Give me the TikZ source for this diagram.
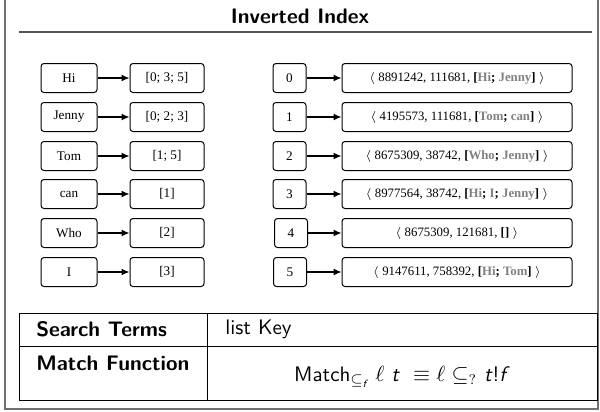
\documentclass[tikz,border=0pt]{standalone}
\usepackage{amsmath}
\usepackage{fontspec}
\newfontfamily\docfont{Liberation Serif}
\usetikzlibrary{arrows.meta}

\definecolor{framegray}{RGB}{112,112,112}
\definecolor{rulegray}{RGB}{85,85,85}
\definecolor{termgray}{RGB}{128,128,128}
\newcommand{\term}[1]{\textcolor{termgray}{#1}}
\newcommand{\sfvar}[1]{\text{\sffamily\itshape #1}}

\begin{document}
\begin{tikzpicture}[
  x=0.5pt, y=-0.5pt,
  entry/.style={rectangle, rounded corners=1.5pt, draw, line width=0.5pt, minimum height=14.5pt, inner sep=0pt, font=\docfont\fontsize{6.6}{8}\selectfont},
  key/.style={entry, minimum width=28pt},
  postings/.style={entry, minimum width=37pt},
  docid/.style={entry, minimum width=16.5pt},
  doc/.style={entry, minimum width=115pt, font=\docfont\fontsize{6.4}{7.5}\selectfont},
  link/.style={-{Latex[length=4pt,width=3.4pt]}, line width=0.55pt},
  heading/.style={font=\sffamily\bfseries\fontsize{10.5}{12}\selectfont},
  cell/.style={font=\sffamily\fontsize{10.5}{12}\selectfont}
]
\useasboundingbox (0,0) rectangle (600,412);

% Frame and title
\draw[framegray, line width=0.8pt] (5,-10) rectangle (598,409);
\node[heading] (Title) at (300,16) {Inverted Index};
\draw[rulegray, line width=0.55pt] (19,32) -- (592,32);

% Keys -> posting lists
\node[key] (Hi) at (69,78) {Hi};
\node[key] (Jenny) at (69,117) {Jenny};
\node[key] (Tom) at (69,156) {Tom};
\node[key] (Can) at (69,194) {can};
\node[key] (Who) at (69,233) {Who};
\node[key] (I) at (69,272) {I};

\node[postings] (HiList) at (167,78) {[0; 3; 5]};
\node[postings] (JennyList) at (167,117) {[0; 2; 3]};
\node[postings] (TomList) at (167,156) {[1; 5]};
\node[postings] (CanList) at (167,194) {[1]};
\node[postings] (WhoList) at (167,233) {[2]};
\node[postings] (IList) at (167,272) {[3]};

% Document ids -> documents
\node[docid] (D0) at (289.5,78) {0};
\node[docid] (D1) at (289.5,117) {1};
\node[docid] (D2) at (289.5,156) {2};
\node[docid] (D3) at (289.5,194) {3};
\node[docid] (D4) at (291,233) {4};
\node[docid] (D5) at (290,272) {5};

\node[doc] (Doc0) at (457,78) {$\langle$ 8891242, 111681, \textbf{[\term{Hi}; \term{Jenny}]} $\rangle$};
\node[doc] (Doc1) at (457,117) {$\langle$ 4195573, 111681, \textbf{[\term{Tom}; \term{can}]} $\rangle$};
\node[doc] (Doc2) at (457,156) {$\langle$ 8675309, 38742, \textbf{[\term{Who}; \term{Jenny}]} $\rangle$};
\node[doc] (Doc3) at (457,194) {$\langle$ 8977564, 38742, \textbf{[\term{Hi}; \term{I}; \term{Jenny}]} $\rangle$};
\node[doc] (Doc4) at (457,233) {$\langle$ 8675309, 121681, \textbf{[]} $\rangle$};
\node[doc] (Doc5) at (457,272) {$\langle$ 9147611, 758392, \textbf{[\term{Hi}; \term{Tom}]} $\rangle$};

\draw[link] (Hi) -- (HiList);
\draw[link] (Jenny) -- (JennyList);
\draw[link] (Tom) -- (TomList);
\draw[link] (Can) -- (CanList);
\draw[link] (Who) -- (WhoList);
\draw[link] (I) -- (IList);

\draw[link] (D0) -- (Doc0);
\draw[link] (D1) -- (Doc1);
\draw[link] (D2) -- (Doc2);
\draw[link] (D3) -- (Doc3);
\draw[link] (D4) -- (Doc4);
\draw[link] (D5) -- (Doc5);

% Summary table
\draw[line width=0.5pt] (19,313) rectangle (597,400);
\draw[line width=0.5pt] (19,346) -- (597,346);
\draw[line width=0.5pt] (207,313) -- (207,400);
\node[heading, anchor=west, inner sep=0pt] (Terms) at (36,329.5) {Search Terms};
\node[cell, anchor=west, inner sep=0pt] (TermsType) at (225,329.5) {list Key};
\node[heading, anchor=west, inner sep=0pt] (Match) at (36,363) {Match Function};
\node[cell] (MatchDef) at (402,377) {Match$_{\subseteq_{\sfvar{f}}}$ $\ell$ \textsf{\itshape t} $\;\equiv \ell \subseteq_{?}$ \textsf{\itshape t}!\textsf{\itshape f}};

\end{tikzpicture}
\end{document}
